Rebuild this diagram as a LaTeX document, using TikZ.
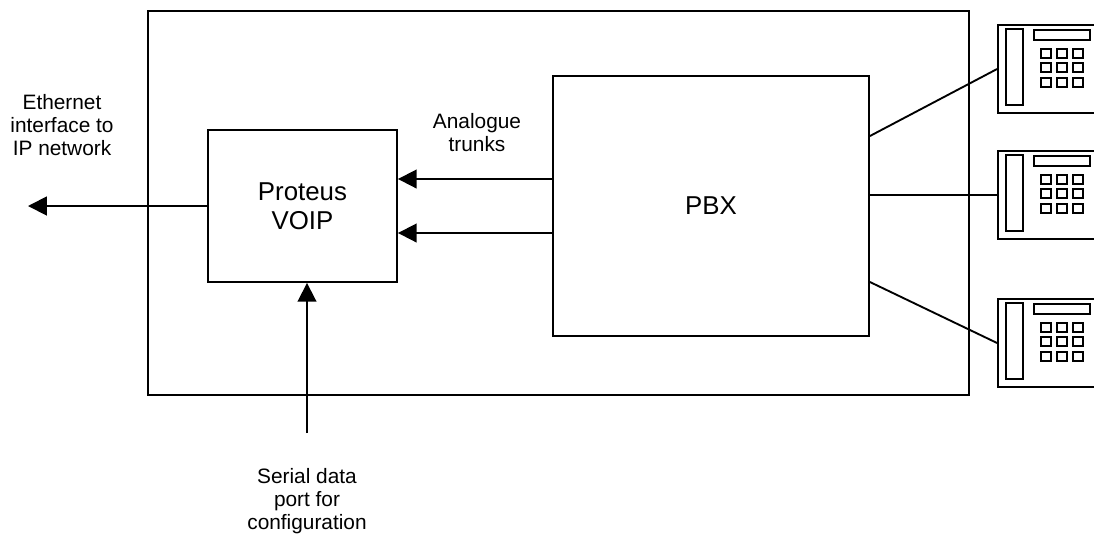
\documentclass[tikz,border=0pt]{standalone}
\usepackage{fontspec}
\setmainfont{Liberation Sans}
\usetikzlibrary{arrows.meta}

\newcommand{\pxu}{0.48pt}

\begin{document}
\begin{tikzpicture}[
    x=0.48pt,
    y=-0.48pt,
    line width=0.9pt,
    unit/.style={
        draw,
        align=center,
        inner sep=0pt,
        font=\fontsize{12.4}{13.9}\selectfont
    },
    phone/.style={
        draw,
        minimum width=120*\pxu,
        minimum height=88*\pxu,
        inner sep=0pt
    },
    note/.style={
        align=center,
        font=\fontsize{10}{11}\selectfont
    },
    feed/.style={
        -{Triangle[length=9pt,width=9pt]}
    }
]
\useasboundingbox (0,0) rectangle (1094,536);
\clip (0,0) rectangle (1094,536);

% =====================
% Caja exterior
% =====================
\node[draw, minimum width=821*\pxu, minimum height=384*\pxu, inner sep=0pt] (site) at (558.5,203) {};

% =====================
% Unidades
% =====================
\node[unit, minimum width=189*\pxu, minimum height=152*\pxu] (proteus) at (302.5,206) {Proteus\\VOIP};
\node[unit, minimum width=316*\pxu, minimum height=260*\pxu] (pbx) at (711,206) {PBX};

% =====================
% Telefonos
% =====================
\node[phone] (phoneA) at (1058,69) {};
\node[phone] (phoneB) at (1058,195) {};
\node[phone] (phoneC) at (1058,343) {};

\foreach \ph in {phoneA,phoneB,phoneC} {
    \begin{scope}[shift={(\ph.north west)}]
        \draw (9,5) rectangle (26,81);
        \draw (37,6) rectangle (93,16);
        \foreach \kx in {44,60,76}
            \foreach \ky in {25,39,54}
                \draw (\kx,\ky) rectangle ++(10,9);
    \end{scope}
}

% =====================
% Textos
% =====================
\node[note] (ethlabel) at (62,125) {Ethernet\\interface to\\IP network};
\node[note] (trunklabel) at (477,133) {Analogue\\trunks};
\node[note] (seriallabel) at (307,501) {Serial data\\port for\\configuration};

\coordinate (ethnet) at (28,206);
\coordinate (serial) at (307,433);

% =====================
% Conexiones
% =====================
\draw[feed] (proteus.west) -- (ethnet);
\draw[feed] (pbx.west |- 0,179) -- (proteus.east |- 0,179);
\draw[feed] (pbx.west |- 0,233) -- (proteus.east |- 0,233);
\draw[feed] (serial) -- (serial |- proteus.south);

\draw (pbx.east |- 0,136) -- (phoneA.west);
\draw (pbx.east |- phoneB.west) -- (phoneB.west);
\draw (pbx.east |- 0,282) -- (phoneC.west);

\end{tikzpicture}
\end{document}
